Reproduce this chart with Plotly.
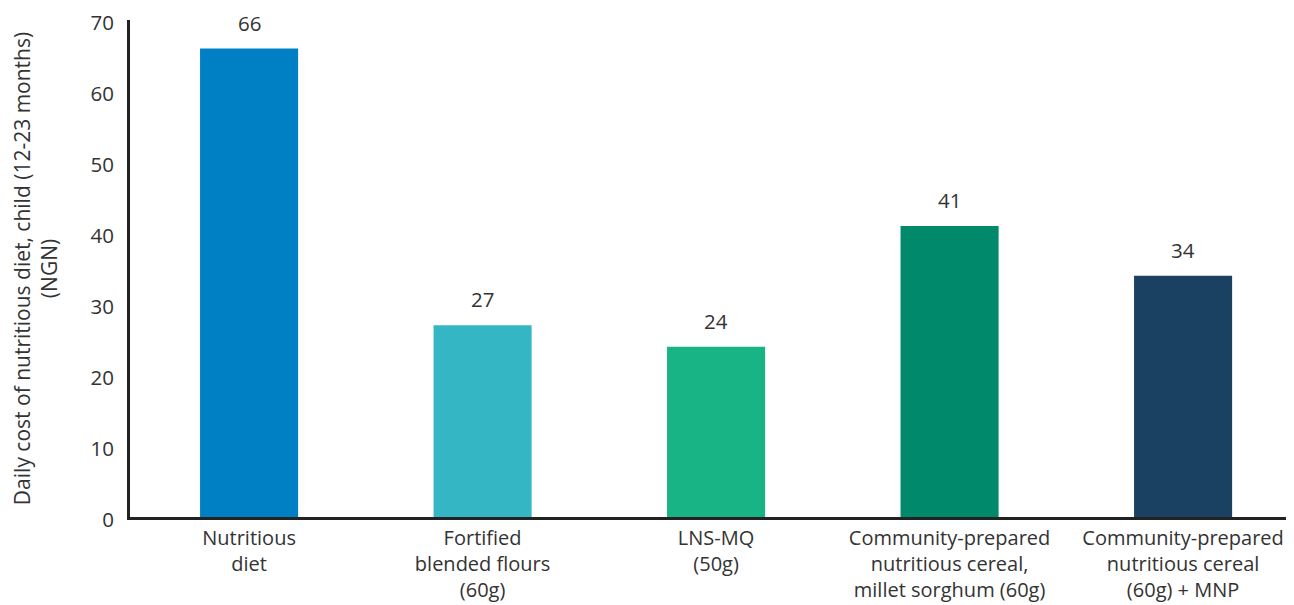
import plotly.graph_objects as go

categories = ["Nutritious<br>diet", "Fortified<br>blended flours<br>(60g)", "LNS-MQ<br>(50g)",
              "Community-prepared<br>nutritious cereal,<br>millet sorghum (60g)",
              "Community-prepared<br>nutritious cereal<br>(60g) + MNP"]
values = [66, 27, 24, 41, 34]
value_labels = ["66", "27", "24", "41", "34"]
colors = ["#0080c4", "#35b6c5", "#18b485", "#00896a", "#1a4162"]
y_ticks = [0, 10, 20, 30, 40, 50, 60, 70]

FONT = "Open Sans"
TXT = "#333333"
FS = 21

fig = go.Figure(go.Bar(x=list(range(len(categories))), y=values, marker_color=colors,
                       marker_line_width=0, hoverinfo="skip"))

for i, (v, t) in enumerate(zip(values, value_labels)):
    fig.add_annotation(x=i, y=v, text=t, showarrow=False, yanchor="bottom", yshift=10,
                       font=dict(family=FONT, size=20.5, color=TXT))

fig.update_layout(
    width=1286, height=597,
    margin=dict(l=122, r=0, t=12, b=88),
    plot_bgcolor="white", paper_bgcolor="white",
    bargap=0.58, showlegend=False,
    font=dict(family=FONT, size=FS, color=TXT),
)
fig.update_xaxes(
    tickmode="array", tickvals=list(range(len(categories))), ticktext=categories,
    range=[-0.51, 4.475], showline=True, linecolor="#222222", linewidth=3,
    ticks="", showgrid=False, zeroline=False, automargin=False, ticklabelstandoff=1,
    ticklabeloverflow="allow",
    tickfont=dict(family=FONT, size=20, color=TXT),
)
fig.update_yaxes(
    range=[0, 70.02], tickvals=y_ticks, showline=True, linecolor="#222222", linewidth=3,
    ticks="", showgrid=False, zeroline=False, automargin=False, ticklabelstandoff=9,
    ticklabelshift=3, ticklabeloverflow="allow",
    tickfont=dict(family=FONT, size=20.5, color=TXT),
    title=dict(text="Daily cost of nutritious diet, child (12-23 months)<br>(NGN)",
               font=dict(family=FONT, size=FS, color=TXT), standoff=39),
)

fig.write_html("out.html")
